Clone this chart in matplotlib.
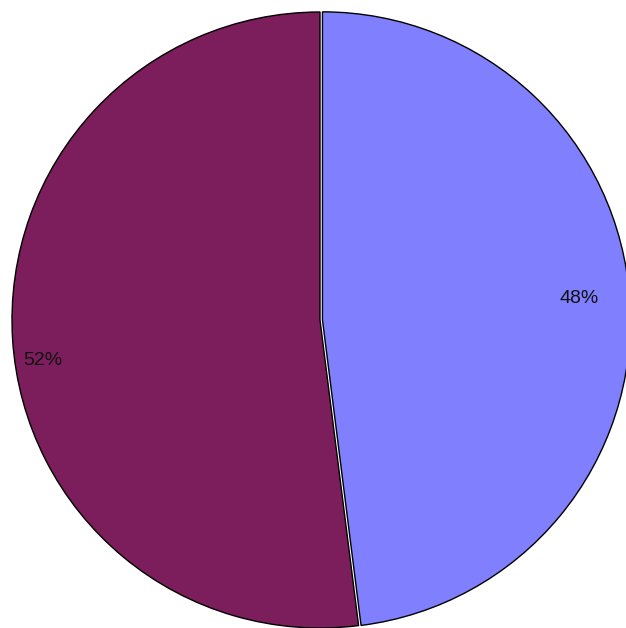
import matplotlib
matplotlib.use("Agg")
import matplotlib.pyplot as plt

values = [48, 52]
labels = ["48%", "52%"]
colors = ["#8080FF", "#7B1E5B"]

fig = plt.figure(figsize=(6.26, 6.28), dpi=100)
ax = fig.add_axes([0, 0, 1, 1])
r_px = 308.0
ax.pie(values, colors=colors, startangle=90, counterclock=False,
       explode=[0.008, 0.0], radius=1.0,
       wedgeprops=dict(edgecolor="black", linewidth=1.0))
for lab, (x, y) in zip(labels, [(0.84, 0.07), (-0.9, -0.13)]):
    ax.text(x, y, lab, ha="center", va="center", fontsize=14,
            family="Liberation Sans", color="#111111")
ax.set_xlim(-320 / r_px, 306 / r_px)
ax.set_ylim(-308 / r_px, 320 / r_px)
ax.set_aspect("equal")
ax.axis("off")
fig.savefig("out.png", dpi=100)
